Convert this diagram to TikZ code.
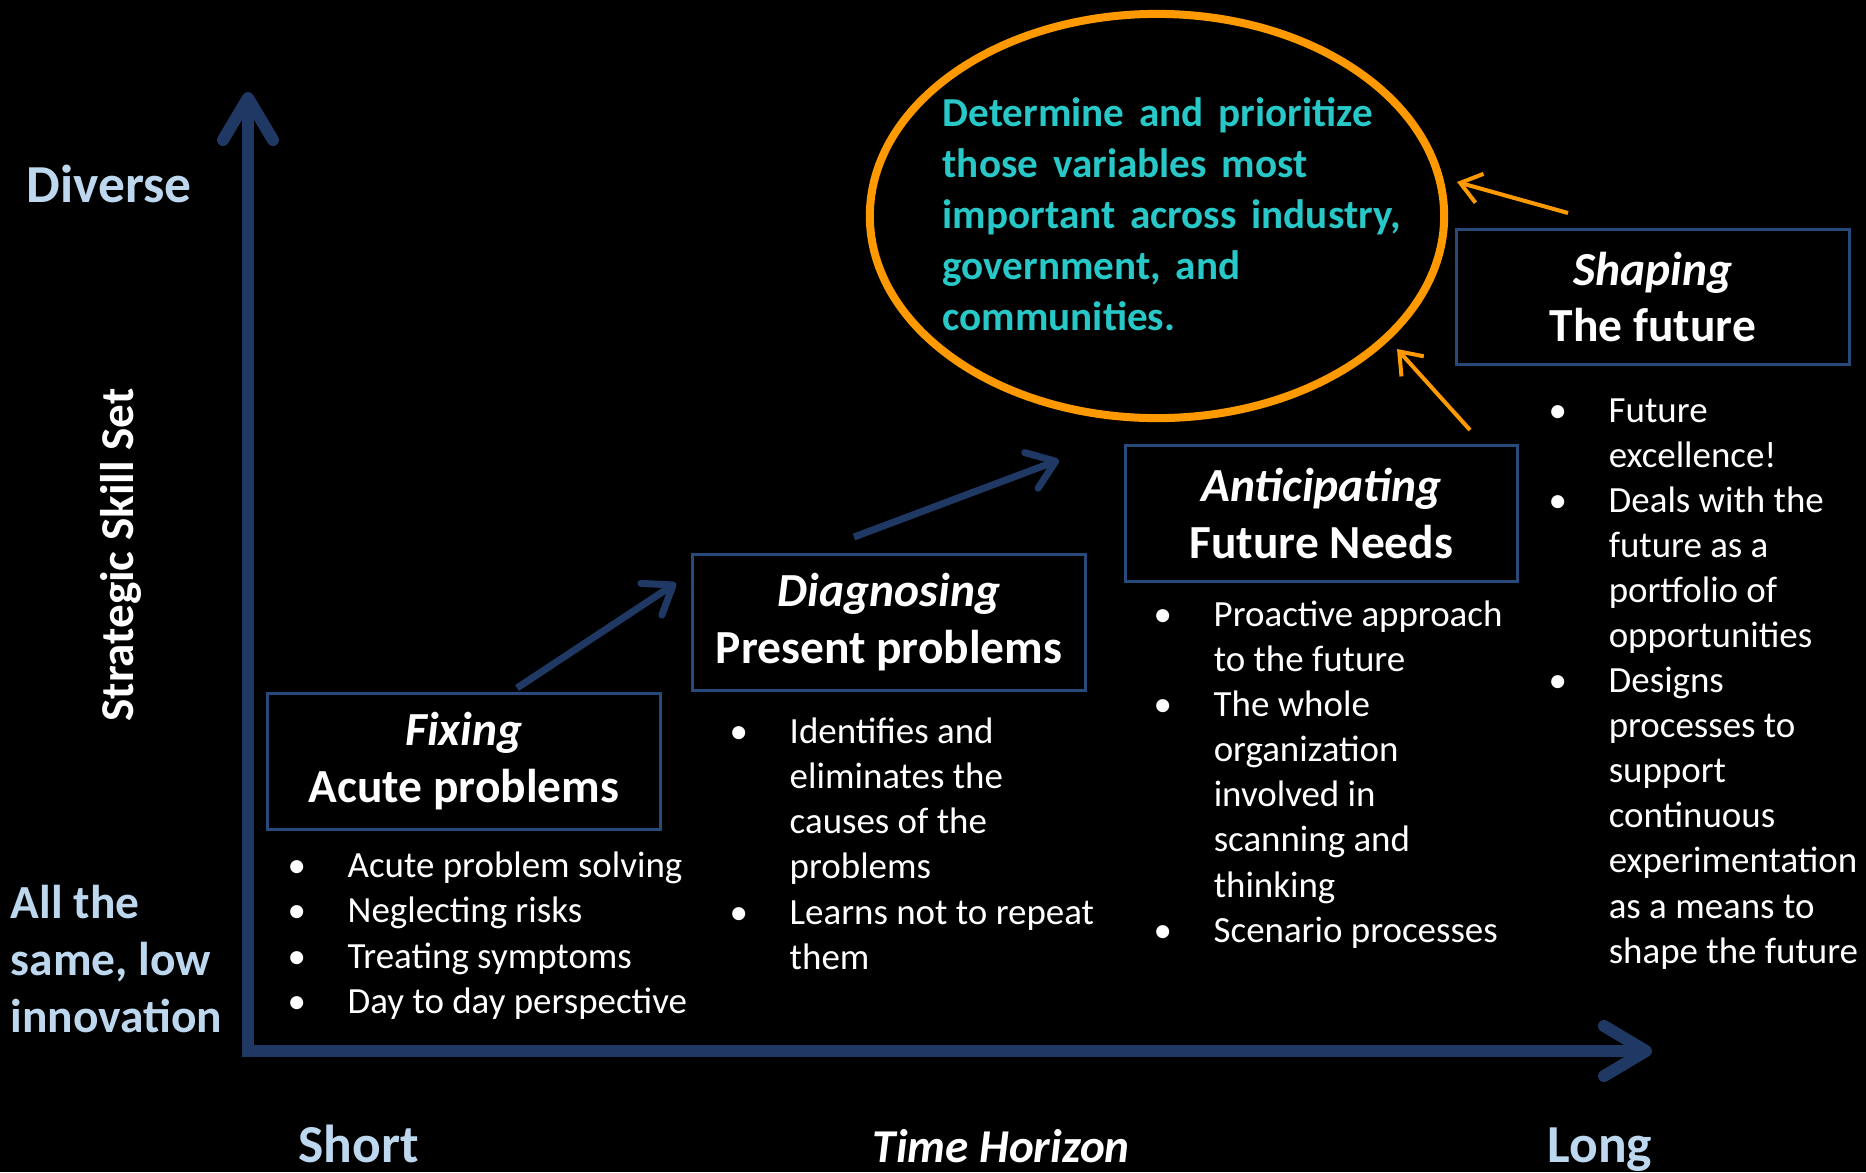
\documentclass[tikz,border=0pt]{standalone}
\usepackage{fontspec}
\setmainfont{Carlito}
\newfontfamily\goalfont[WordSpace=1.6]{Carlito}
\usetikzlibrary{arrows.meta, shapes.geometric}
\definecolor{axisblue}{RGB}{31,56,100}
\definecolor{boxblue}{RGB}{40,74,122}
\definecolor{paleblue}{RGB}{189,215,238}
\definecolor{goalteal}{RGB}{40,200,200}
\definecolor{goalorange}{RGB}{255,153,0}
\newcommand{\bitem}{\makebox[0.6cm][l]{\textbullet}}
\newcommand{\bcont}{\hspace*{0.6cm}}

\begin{document}
\begin{tikzpicture}[x=0.01cm, y=-0.01cm,
    axisline/.style={line width=0.12cm, axisblue, line join=miter,
        >={Straight Barb[length=0.42cm, width=0.5cm, round]}, <->},
    steparrow/.style={line width=0.07cm, axisblue, -{Straight Barb[length=0.26cm, width=0.38cm, round]}},
    hintarrow/.style={line width=0.04cm, goalorange, -{Straight Barb[length=0.2cm, width=0.3cm]}},
    stagebox/.style={draw=boxblue, line width=0.03cm, minimum width=3.92cm, minimum height=1.35cm,
        inner sep=0, align=center, text=white, font=\bfseries\fontsize{13.5}{16.2}\selectfont},
    listtext/.style={anchor=base west, align=left, inner sep=0, text=white,
        font=\fontsize{10.5}{12.8}\selectfont},
    axislabel/.style={anchor=base west, inner sep=0, text=paleblue, font=\bfseries\fontsize{15.2}{18}\selectfont}]
    \path[use as bounding box, fill=black] (0,0) rectangle (1866,1172);

    % axes
    \coordinate (origin) at (248,1051);
    \coordinate (ytop) at (248,92);
    \coordinate (xend) at (1652,1051);
    \draw[axisline] (ytop) -- (origin) -- (xend);

    \node[axislabel] (diverse) at (26,202) {Diverse};
    \node[axislabel, align=left, font=\bfseries\fontsize{13.5}{16.2}\selectfont] (same) at (10,1032) {All the\\same, low\\innovation};
    \node[rotate=90, inner sep=0, text=white, font=\bfseries\fontsize{13.4}{16}\selectfont] (skill) at (121,555) {Strategic Skill Set};
    \node[axislabel] (short) at (298,1162) {Short};
    \node[axislabel, text=white, font=\bfseries\itshape\fontsize{13.4}{16}\selectfont] (horizon) at (872,1162) {Time Horizon};
    \node[axislabel] (long) at (1547,1162) {Long};

    % stages
    \node[stagebox] (fix) at (464,761.5) {\textit{Fixing}\\Acute problems};
    \node[stagebox] (diag) at (889,622.5) {\textit{Diagnosing}\\Present problems};
    \node[stagebox] (anti) at (1321.5,513.5) {\textit{Anticipating}\\Future Needs};
    \node[stagebox] (shape) at (1653,297) {\textit{Shaping}\\The future};

    % lists (base = last line)
    \node[listtext] (fixlist) at (287,1013) {\bitem Acute problem solving\\
        \bitem Neglecting risks\\
        \bitem Treating symptoms\\
        \bitem Day to day perspective};
    \node[listtext] (diaglist) at (729,969) {\bitem Identifies and\\
        \bcont eliminates the\\
        \bcont causes of the\\
        \bcont problems\\
        \bitem Learns not to repeat\\
        \bcont them};
    \node[listtext] (antilist) at (1153,942) {\bitem Proactive approach\\
        \bcont to the future\\
        \bitem The whole\\
        \bcont organization\\
        \bcont involved in\\
        \bcont scanning and\\
        \bcont thinking\\
        \bitem Scenario processes};
    \node[listtext] (shapelist) at (1548,963) {\bitem Future\\
        \bcont excellence!\\
        \bitem Deals with the\\
        \bcont future as a\\
        \bcont portfolio of\\
        \bcont opportunities\\
        \bitem Designs\\
        \bcont processes to\\
        \bcont support\\
        \bcont continuous\\
        \bcont experimentation\\
        \bcont as a means to\\
        \bcont shape the future};

    \coordinate (fixtail) at (517,688);
    \coordinate (fixtip) at (676,583);
    \coordinate (diagtail) at (854,537);
    \coordinate (diagtip) at (1059,460);
    \draw[steparrow] (fixtail) -- (fixtip);
    \draw[steparrow] (diagtail) -- (diagtip);

    % goal
    \node[draw=goalorange, line width=0.08cm, ellipse, minimum width=5.74cm, minimum height=4.04cm, inner sep=0] (goal) at (1157,216) {};
    \node[anchor=base west, align=left, inner sep=0, text=goalteal,
        font=\goalfont\bfseries\fontsize{11.7}{14.5}\selectfont] (goaltext) at (942,330)
        {Determine and prioritize\\
        those variables most\\
        important across industry,\\
        government, and\\
        communities.};

    \coordinate (shapetail) at (1568,213);
    \coordinate (shapetip) at (1457,182);
    \coordinate (antitail) at (1470,430);
    \coordinate (antitip) at (1397,349);
    \draw[hintarrow] (shapetail) -- (shapetip);
    \draw[hintarrow] (antitail) -- (antitip);
\end{tikzpicture}
\end{document}
